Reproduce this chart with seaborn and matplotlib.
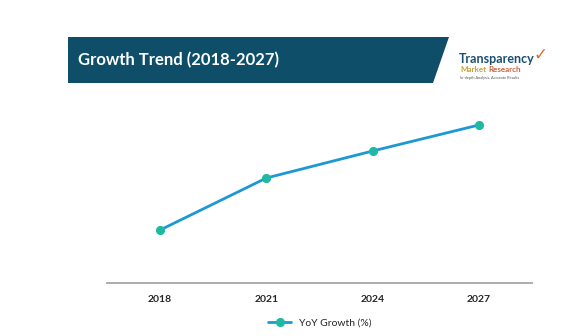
import matplotlib
matplotlib.use("Agg")
import matplotlib.pyplot as plt
import seaborn as sns
import pandas as pd
from matplotlib.patches import Polygon

years = ["2018", "2021", "2024", "2027"]
yoy_growth = [2.65, 5.25, 6.6, 7.9]
series_label = "YoY Growth (%)"
title = "Growth Trend (2018-2027)"

sns.set_theme(style="white")
plt.rcParams['font.family'] = ['Lato', 'DejaVu Sans']

W, H = 583, 336
fig = plt.figure(figsize=(W / 100, H / 100), dpi=100)
fig.patch.set_facecolor("white")

ax = fig.add_axes([107 / W, (H - 283) / H, (532 - 107) / W, 200 / H])
df = pd.DataFrame({"Year": years, "Value": yoy_growth})
sns.lineplot(data=df, x="Year", y="Value", ax=ax, color="#1c98d4", linewidth=2.0,
             marker="o", markersize=5.8, markerfacecolor="#1fb8a0",
             markeredgecolor="#1fb8a0", label=series_label, legend=False)
ax.set_xlim(-0.5, 3.5)
ax.set_ylim(0, 10)
ax.set_xlabel("")
ax.set_ylabel("")
ax.set_yticks([])
for s in ["top", "right", "left"]:
    ax.spines[s].set_visible(False)
ax.spines["bottom"].set_color("#a6a6a6")
ax.spines["bottom"].set_linewidth(1.3)
ax.tick_params(axis="x", length=0, pad=9, labelsize=7.5, labelcolor="#262626")
for t in ax.get_xticklabels():
    t.set_fontweight("bold")

# legend
h, l = ax.get_legend_handles_labels()
fig.legend(h, l, loc="center", bbox_to_anchor=(320 / W, 1 - 323 / H), frameon=False,
           fontsize=7.5, handlelength=2.2, labelcolor="#262626")

# banner
poly = Polygon([[68 / W, 1 - 37 / H], [449 / W, 1 - 37 / H], [433 / W, 1 - 83 / H], [68 / W, 1 - 83 / H]],
               closed=True, transform=fig.transFigure, facecolor="#0e4e68", edgecolor="none")
fig.patches.append(poly)
fig.text(78 / W, 1 - 60 / H, title, color="white", fontsize=12, fontweight="bold",
         va="center", ha="left")

# logo
fig.text(459 / W, 1 - 59 / H, "Transparency", color="#1b4f72", fontsize=9, fontweight="bold",
         va="center", ha="left")
fig.text(460 / W, 1 - 70 / H, "Market", color="#c8a23a", fontsize=5.8, fontweight="bold",
         va="center", ha="left")
fig.text(488 / W, 1 - 70 / H, "Research", color="#d2603a", fontsize=5.8, fontweight="bold",
         va="center", ha="left")
fig.text(460 / W, 1 - 78 / H, "In-depth Analysis, Accurate Results", color="#555555", fontsize=2.8,
         va="center", ha="left")
fig.text(534 / W, 1 - 55 / H, "\u2713", color="#e06a2c", fontsize=12, fontweight="bold",
         va="center", ha="left", family=["DejaVu Sans"])

fig.savefig("out.png", dpi=100, facecolor="white")
